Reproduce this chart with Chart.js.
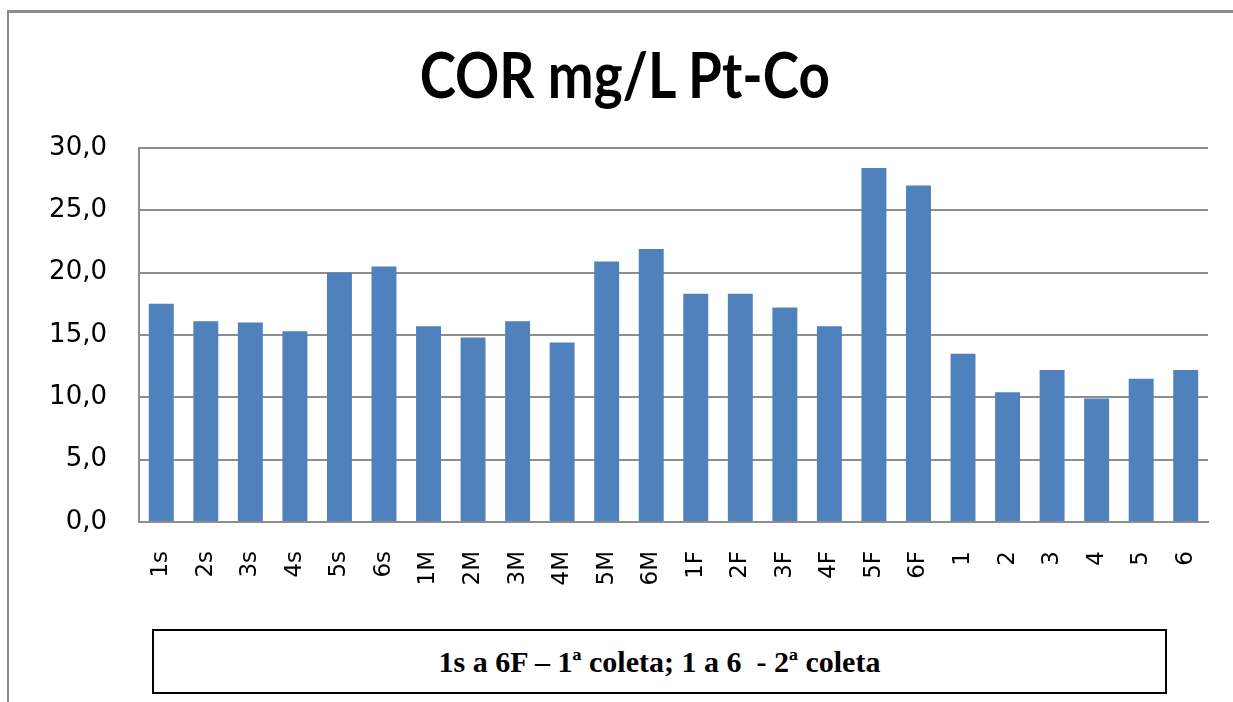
<!DOCTYPE html>
<html>
<head>
<meta charset="utf-8">
<script src="https://cdn.jsdelivr.net/npm/chart.js@4/dist/chart.umd.min.js"></script>
<style>
  html, body { margin: 0; padding: 0; background: #fff; }
  #wrap { position: relative; width: 1233px; height: 702px; overflow: hidden; }
  #frame { position: absolute; left: 7px; top: 10px; right: -10px; bottom: -10px;
           border-left: 2px solid #8c8c8c; border-top: 3px solid #8c8c8c; }
  #chart { position: absolute; left: 0; top: 0; }
  #titulo { position: absolute; left: 0; width: 1250px; top: 36px; text-align: center;
            font-family: Lato, sans-serif; font-weight: bold; font-size: 64px; line-height: 76px;
            color: #000; }
  #titulo span { display: inline-block; transform: scaleX(0.855); }
  #note { position: absolute; left: 152px; top: 629px; width: 1011px; height: 61px;
          border: 2px solid #000; background: #fff;
          font-family: "Liberation Serif", "Times New Roman", serif; font-weight: bold;
          font-size: 30px; line-height: 61px; text-align: center; color: #000; }
</style>
</head>
<body>
<div id="wrap">
  <div id="frame"></div>
  <canvas id="chart" width="1233" height="702"></canvas>
  <div id="titulo"><span>COR mg/L Pt-Co</span></div>
  <div id="note"><span>1s a 6F – 1ª coleta; 1 a 6&nbsp; - 2ª coleta</span></div>
</div>
<script>
// valores
const amostras = ["1s", "2s", "3s", "4s", "5s", "6s", "1M", "2M", "3M", "4M", "5M", "6M",
                  "1F", "2F", "3F", "4F", "5F", "6F", "1", "2", "3", "4", "5", "6"];
const cor = [17.5, 16.1, 16.0, 15.3, 20.0, 20.5, 15.7, 14.8, 16.1, 14.4, 20.9, 21.9,
             18.3, 18.3, 17.2, 15.7, 28.4, 27.0, 13.5, 10.4, 12.2, 9.9, 11.5, 12.2];

const cinza = "#8e8e8e";

const canvas = document.getElementById("chart").getContext("2d");
new Chart(canvas, {
  type: "bar",
  data: {
    labels: amostras,
    datasets: [
      {
        label: "COR",
        data: cor,
        backgroundColor: "#4f81bd",
        borderWidth: 0,
        barPercentage: 0.56,
        categoryPercentage: 1,
      },
    ],
  },
  options: {
    responsive: false,
    animation: false,
    layout: { padding: { left: 0, right: 25, top: 148, bottom: 0 } },
    plugins: {
      legend: { display: false },
      tooltip: { enabled: false },
      title: { display: false },
    },
    scales: {
      x: {
        // grade escondida, tickLength só serve para afastar os rótulos do eixo
        grid: { display: false, drawTicks: true, tickLength: 26 },
        border: { display: true, color: cinza, width: 2 },
        ticks: {
          color: "#000",
          font: { family: "DejaVu Sans", size: 23 },
          minRotation: 90,
          maxRotation: 90,
          padding: 3,
          autoSkip: false,
        },
        afterFit: (scale) => { scale.height = 180; },
      },
      y: {
        min: 0,
        max: 30,
        grid: { color: cinza, lineWidth: 2, drawTicks: false },
        border: { display: true, color: cinza, width: 2 },
        ticks: {
          stepSize: 5,
          color: "#000",
          font: { family: "DejaVu Sans", size: 26 },
          padding: 32,
          callback: (v) => v.toFixed(1).replace(".", ","),
        },
        afterFit: (scale) => { scale.width = 139; },
      },
    },
  },
});
</script>
</body>
</html>
